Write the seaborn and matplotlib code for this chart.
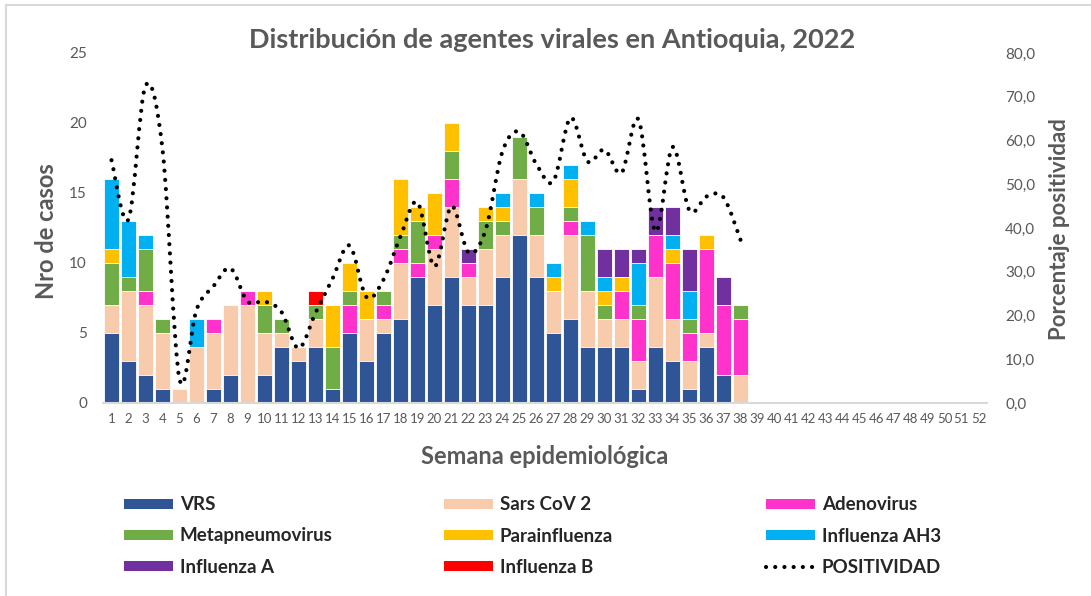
import numpy as np
import pandas as pd
import matplotlib
matplotlib.use("Agg")
import matplotlib.pyplot as plt
import seaborn as sns
from matplotlib.path import Path
from matplotlib.patches import PathPatch, Patch
from matplotlib.lines import Line2D
from matplotlib.ticker import FuncFormatter

# ---------------- data ----------------
weeks = list(range(1, 39))
all_weeks = [str(w) for w in range(1, 53)]

vrs = [5, 3, 2, 1, 0, 0, 1, 2, 0, 2, 4, 3, 4, 1, 5, 3, 5, 6, 9, 7,
       9, 7, 7, 9, 12, 9, 5, 6, 4, 4, 4, 1, 4, 3, 1, 4, 2, 0]
sars = [2, 5, 5, 4, 1, 4, 4, 5, 7, 3, 1, 1, 2, 0, 0, 3, 1, 4, 0, 4,
        5, 2, 4, 3, 4, 3, 3, 6, 4, 2, 2, 2, 5, 3, 2, 1, 0, 2]
adeno = [0, 0, 1, 0, 0, 0, 1, 0, 1, 0, 0, 0, 0, 0, 2, 0, 1, 1, 1, 1,
         2, 1, 0, 0, 0, 0, 0, 1, 0, 0, 2, 3, 3, 4, 2, 6, 5, 4]
meta = [3, 1, 3, 1, 0, 0, 0, 0, 0, 2, 1, 0, 1, 3, 1, 0, 1, 1, 3, 0,
        2, 0, 2, 1, 3, 2, 0, 1, 4, 1, 0, 1, 0, 0, 1, 0, 0, 1]
para = [1, 0, 0, 0, 0, 0, 0, 0, 0, 1, 0, 0, 0, 3, 2, 2, 0, 4, 1, 3,
        2, 0, 1, 1, 0, 0, 1, 2, 0, 1, 1, 0, 0, 1, 0, 1, 0, 0]
ah3 = [5, 4, 1, 0, 0, 2, 0, 0, 0, 0, 0, 0, 0, 0, 0, 0, 0, 0, 0, 0,
       0, 0, 0, 1, 0, 1, 1, 1, 1, 1, 0, 3, 0, 1, 2, 0, 0, 0]
flu_a = [0, 0, 0, 0, 0, 0, 0, 0, 0, 0, 0, 0, 0, 0, 0, 0, 0, 0, 0, 0,
         0, 1, 0, 0, 0, 0, 0, 0, 0, 2, 2, 1, 2, 2, 3, 0, 2, 0]
flu_b = [0, 0, 0, 0, 0, 0, 0, 0, 0, 0, 0, 0, 1, 0, 0, 0, 0, 0, 0, 0,
         0, 0, 0, 0, 0, 0, 0, 0, 0, 0, 0, 0, 0, 0, 0, 0, 0, 0]
positividad = [55.5, 42.0, 72.5, 58.0, 5.5, 21.3, 26.7, 30.8, 23.2, 23.2,
               20.8, 12.5, 20.6, 28.4, 36.0, 24.2, 28.2, 38.1, 45.9, 31.2,
               45.0, 34.4, 39.5, 57.5, 62.0, 54.5, 50.7, 65.2, 55.2, 57.9,
               52.6, 64.8, 39.2, 58.5, 44.0, 47.2, 47.0, 37.3]

series_names = ["VRS", "Sars CoV 2", "Adenovirus", "Metapneumovirus",
                "Parainfluenza", "Influenza AH3", "Influenza A", "Influenza B"]
series_colors = ["#2F5597", "#F8CBAD", "#FF33CC", "#70AD47",
                 "#FFC000", "#00B0F0", "#7030A0", "#FF0000"]
layers = [vrs, sars, adeno, meta, para, ah3, flu_a, flu_b]

# ---------------- style ----------------
sns.set_theme(style="white")
plt.rcParams["font.family"] = ["Lato", "DejaVu Sans"]
GRAY = "#595959"

W, H = 1091, 596
fig = plt.figure(figsize=(W / 100, H / 100), dpi=100)
ax = fig.add_axes([103 / W, 1 - 403 / H, (987 - 103) / W, 350 / H])

# stacked bars: draw cumulative totals from the top layer down
cum = np.cumsum(np.array(layers), axis=0)
week_labels = [str(w) for w in weeks]
for i in reversed(range(len(layers))):
    sns.barplot(x=week_labels, y=cum[i], order=all_weeks,
                color=series_colors[i], saturation=1, width=0.88,
                edgecolor="white", linewidth=0.6, errorbar=None, ax=ax)

ax.set_xlim(-0.5, 51.5)
ax.set_ylim(0, 25)
ax.set_yticks(range(0, 26, 5))
ax.set_xlabel("")
ax.set_ylabel("")
for s in ["top", "left", "right"]:
    ax.spines[s].set_visible(False)
ax.spines["bottom"].set_color("#D9D9D9")
ax.spines["bottom"].set_linewidth(1.5)
ax.tick_params(axis="y", length=0, pad=11.5, labelsize=11, labelcolor=GRAY)
ax.tick_params(axis="x", length=0, pad=7, labelsize=9.5, labelcolor=GRAY)

# positivity line on secondary axis (smooth curve through the points)
ax2 = ax.twinx()
ax2.set_ylim(0, 80)
ax2.set_yticks(range(0, 81, 10))
ax2.yaxis.set_major_formatter(FuncFormatter(lambda v, p: f"{v:.1f}".replace(".", ",")))
ax2.tick_params(axis="y", length=0, pad=13, labelsize=11, labelcolor=GRAY)
for s in ax2.spines.values():
    s.set_visible(False)
ax2.grid(False)
ax.grid(False)

px = np.array(weeks, dtype=float) - 1
py = np.array(positividad, dtype=float)
pts = np.column_stack([px, py])
n = len(pts)
verts = [tuple(pts[0])]
codes = [Path.MOVETO]
for i in range(n - 1):
    p0 = pts[i - 1] if i > 0 else pts[i]
    p1 = pts[i]
    p2 = pts[i + 1]
    p3 = pts[i + 2] if i + 2 < n else pts[i + 1]
    c1 = p1 + (p2 - p0) / 6.0
    c2 = p2 - (p3 - p1) / 6.0
    verts += [tuple(c1), tuple(c2), tuple(p2)]
    codes += [Path.CURVE4] * 3
dot_style = (0, (0.01, 2.2))
curve = PathPatch(Path(verts, codes), facecolor="none", edgecolor="black",
                  linewidth=3.0, linestyle=dot_style, capstyle="round")
ax2.add_patch(curve)

# ---------------- texts ----------------
fig.text(552 / W, 1 - 40 / H, "Distribución de agentes virales en Antioquia, 2022",
         ha="center", va="center", fontsize=19.5, fontweight="bold", color=GRAY)
fig.text(47 / W, 1 - 231 / H, "Nro de casos", rotation=90, ha="center",
         va="center", fontsize=17, fontweight="bold", color=GRAY)
fig.text(1059 / W, 1 - 229 / H, "Porcentaje positividad", rotation=90,
         ha="center", va="center", fontsize=16, fontweight="bold", color=GRAY)
fig.text(545 / W, 1 - 457 / H, "Semana epidemiológica", ha="center",
         va="center", fontsize=17, fontweight="bold", color=GRAY)

# ---------------- legend (3 columns, row-major order) ----------------
handles = [Patch(facecolor=c, edgecolor="none") for c in series_colors]
handles.append(Line2D([0], [0], color="black", linewidth=3.0,
                      linestyle=dot_style, dash_capstyle="round"))
labels = series_names + ["POSITIVIDAD"]
col_x = [124, 444, 766]
for ci in range(3):
    idx = [ci, ci + 3, ci + 6]
    leg = fig.legend([handles[k] for k in idx], [labels[k] for k in idx],
                     loc="center left", bbox_to_anchor=(col_x[ci] / W, 1 - 536 / H),
                     frameon=False, fontsize=13.5, handlelength=2.61,
                     handleheight=0.48, handletextpad=0.37, labelspacing=0.75,
                     borderpad=0, borderaxespad=0)
    for t in leg.get_texts():
        t.set_fontweight("bold")
        t.set_color("#262626")

# outer frame (top and left edges visible)
fig.add_artist(Line2D([6 / W, 1], [1 - 5 / H, 1 - 5 / H], transform=fig.transFigure,
                      color="#D9D9D9", linewidth=1.5))
fig.add_artist(Line2D([6 / W, 6 / W], [0, 1 - 5 / H], transform=fig.transFigure,
                      color="#D9D9D9", linewidth=1.5))

fig.savefig("out.png", dpi=100)
